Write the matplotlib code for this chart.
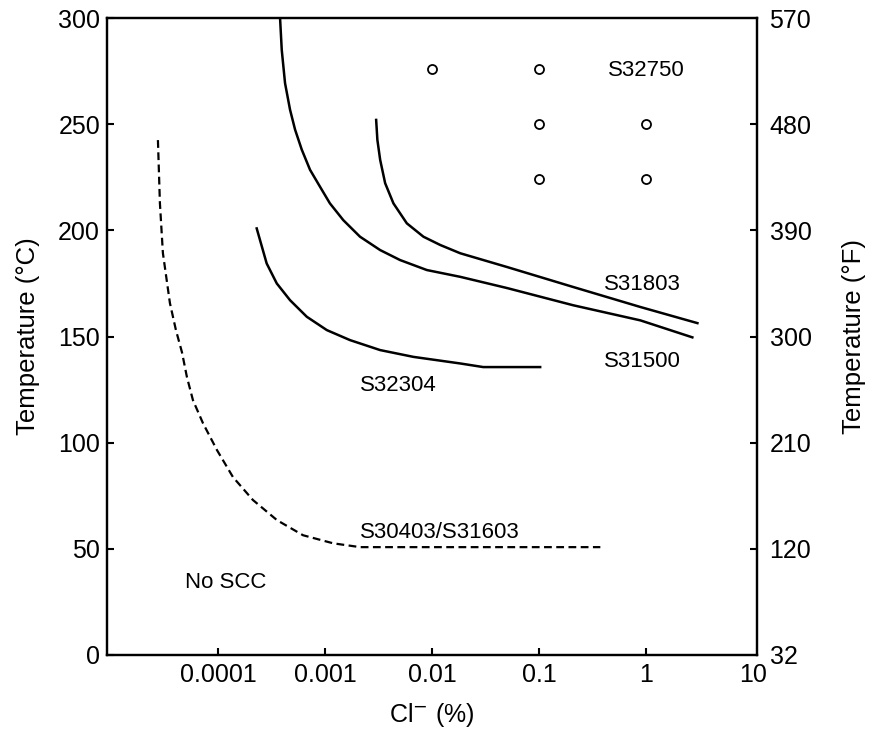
import matplotlib
matplotlib.use("Agg")
import matplotlib.pyplot as plt
import numpy as np

plt.rcParams['font.family'] = ['Liberation Sans', 'DejaVu Sans']

# curves: Cl- (%) vs temperature (C)
s31500_x = [3.80e-4, 3.94e-4, 4.23e-4, 4.71e-4, 5.25e-4, 6.06e-4, 7.24e-4, 8.98e-4,
            1.11e-3, 1.48e-3, 2.12e-3, 3.27e-3, 5.02e-3, 8.92e-3, 1.83e-2,
            5.02e-2, 0.208, 0.879, 2.69]
s31500_y = [300, 285, 269.3, 256.8, 247.4, 238, 228.5, 220.5,
            212.7, 204.8, 197, 190.7, 186, 181.3, 178.1,
            172.8, 164.7, 157.6, 149.6]

s31803_x = [3.00e-3, 3.08e-3, 3.27e-3, 3.64e-3, 4.35e-3, 5.80e-3, 8.29e-3, 1.19e-2,
            1.83e-2, 5.02e-2, 0.208, 0.879, 3.0]
s31803_y = [252, 242.6, 233.2, 222.2, 212.7, 203.3, 197, 193.1,
            189.2, 182.7, 173.3, 163.9, 156.3]

s32304_x = [2.30e-4, 2.47e-4, 2.85e-4, 3.54e-4, 4.71e-4, 6.75e-4, 1.04e-3, 1.71e-3,
            3.27e-3, 6.69e-3, 1.83e-2, 3.00e-2, 0.102]
s32304_y = [200.9, 195.4, 184.4, 175, 167.1, 159.3, 153, 148.3,
            143.6, 140.4, 137.3, 135.6, 135.6]

s304_x = [2.75e-5, 2.87e-5, 3.06e-5, 3.56e-5, 4.05e-5, 4.61e-5, 5.13e-5, 5.84e-5,
          7.24e-5, 9.79e-5, 1.38e-4, 2.12e-4, 3.56e-4, 6.23e-4, 1.19e-3, 2.12e-3, 0.372]
s304_y = [242.5, 212.8, 189.3, 165.7, 153, 142.6, 130.9, 120,
          109.2, 96.5, 83.8, 73, 63.5, 56.4, 52.6, 50.8, 50.8]

# S32750 test points
pts_x = [0.01, 0.1, 0.1, 1, 0.1, 1]
pts_y = [276, 276, 250, 250, 224, 224]

xticks = [1e-4, 1e-3, 1e-2, 1e-1, 1, 10]
xtick_labels = ['0.0001', '0.001', '0.01', '0.1', '1', '10']
yticks = [0, 50, 100, 150, 200, 250, 300]
f_labels = ['32', '120', '210', '300', '390', '480', '570']

fig = plt.figure(figsize=(8.72, 7.33), dpi=100)
ax = fig.add_axes([107/872, 1 - 655/733, 650/872, 637/733])

lw = 1.8
ax.plot(s31500_x, s31500_y, color='black', lw=lw)
ax.plot(s31803_x, s31803_y, color='black', lw=lw)
ax.plot(s32304_x, s32304_y, color='black', lw=lw)
ax.plot(s304_x, s304_y, color='black', lw=1.6, linestyle=(0, (3.5, 2)))
ax.plot(pts_x, pts_y, 'o', mfc='white', mec='black', ms=6.5, mew=1.3, ls='none')

ax.set_xscale('log')
ax.set_xlim(9.2e-6, 10.8)
ax.set_ylim(0, 300)

ax.set_xticks(xticks)
ax.set_xticklabels(xtick_labels)
ax.minorticks_off()
ax.set_yticks(yticks)
ax.tick_params(axis='both', direction='in', length=5, width=1.5, labelsize=18)
ax.tick_params(axis='x', pad=6)
ax.tick_params(axis='y', pad=5)
for t in ax.xaxis.get_major_ticks()[-1:]:
    t.tick1line.set_visible(False)
for t in (ax.yaxis.get_major_ticks()[0], ax.yaxis.get_major_ticks()[-1]):
    t.tick1line.set_visible(False)
for s in ax.spines.values():
    s.set_linewidth(1.6)

ax.set_xlabel('Cl$^{-}$ (%)', fontsize=18, labelpad=10)
ax.set_ylabel('Temperature (°C)', fontsize=18.5, labelpad=13)

ax2 = ax.twinx()
ax2.set_ylim(0, 300)
ax2.set_yticks(yticks)
ax2.set_yticklabels(f_labels)
ax2.tick_params(axis='y', direction='in', length=5, width=1.5, labelsize=18, pad=9)
for t in (ax2.yaxis.get_major_ticks()[0], ax2.yaxis.get_major_ticks()[-1]):
    t.tick2line.set_visible(False)
ax2.set_ylabel('Temperature (°F)', fontsize=18.5, labelpad=22)
for s in ax2.spines.values():
    s.set_linewidth(1.6)

fs = 16
ax.text(0.44, 275.5, 'S32750', fontsize=fs, va='center')
ax.text(0.40, 174.5, 'S31803', fontsize=fs, va='center')
ax.text(0.40, 138, 'S31500', fontsize=fs, va='center')
ax.text(2.12e-3, 127, 'S32304', fontsize=fs, va='center')
ax.text(2.12e-3, 57.5, 'S30403/S31603', fontsize=fs, va='center')
ax.text(4.9e-5, 34, 'No SCC', fontsize=fs, va='center')

fig.savefig('out.png', dpi=100)
